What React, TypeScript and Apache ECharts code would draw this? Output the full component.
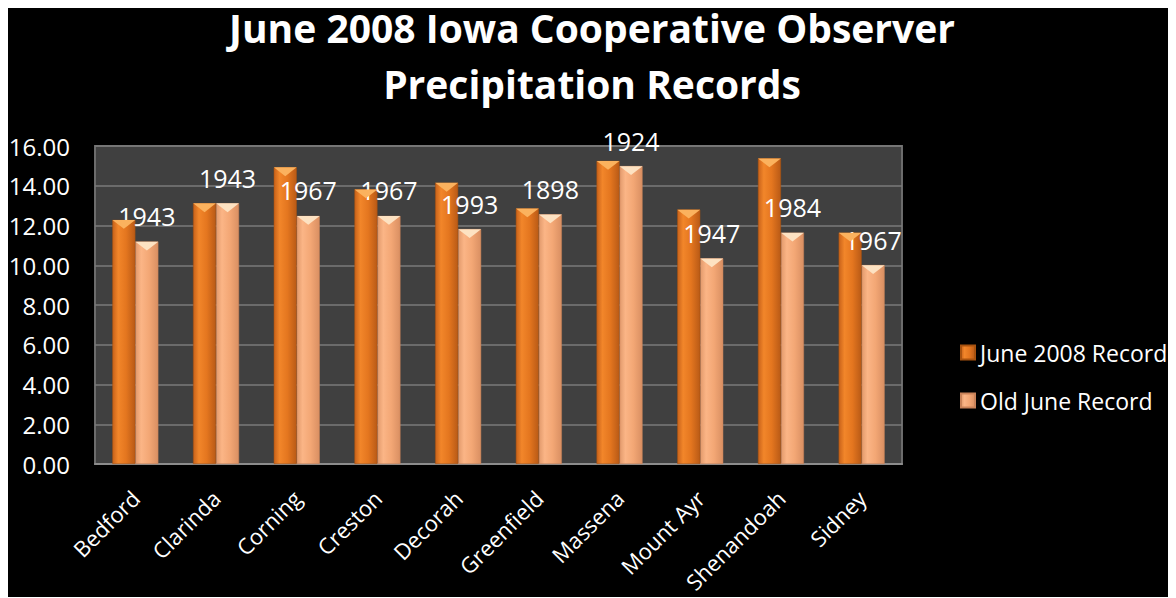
import React, { useEffect, useRef } from "react";
import * as echarts from "echarts";

const categories = ["Bedford", "Clarinda", "Corning", "Creston", "Decorah", "Greenfield", "Massena", "Mount Ayr", "Shenandoah", "Sidney"];
const june2008 = [12.28, 13.12, 14.93, 13.82, 14.15, 12.86, 15.25, 12.8, 15.38, 11.64];
const oldRecord = [11.19, 13.12, 12.48, 12.48, 11.82, 12.56, 14.99, 10.35, 11.64, 10.01];
const oldYears = ["1943", "1943", "1967", "1967", "1993", "1898", "1924", "1947", "1984", "1967"];
const yTicks = { min: 0, max: 16, interval: 2 };
const seriesNames = ["June 2008 Record", "Old June Record"];
const titleLines = ["June 2008 Iowa Cooperative Observer", "Precipitation Records"];

const FONT = "'Open Sans', 'DejaVu Sans', sans-serif";

function hGrad(stops: [number, string][]) {
  return new echarts.graphic.LinearGradient(0, 0, 1, 0, stops.map(([offset, color]) => ({ offset, color })));
}

export default function App() {
  const ref = useRef<HTMLDivElement>(null);
  useEffect(() => {
    if (!ref.current) return;
    const chart = echarts.init(ref.current, undefined, { renderer: "svg" });
    const juneColor = hGrad([
      [0, "#c8621a"],
      [0.25, "#f2862a"],
      [0.6, "#e4761f"],
      [1, "#b95a16"],
    ]);
    const oldColor = hGrad([
      [0, "#e29a6c"],
      [0.25, "#fbb586"],
      [0.6, "#f3a775"],
      [1, "#d98f62"],
    ]);
    const barW = 23;
    const titleStyle = {
      color: "#ffffff",
      fontFamily: FONT,
      fontWeight: "bold",
      fontSize: 39,
      lineHeight: 40,
    };
    chart.setOption({
      animation: false,
      backgroundColor: "#000000",
      graphic: [
        {
          type: "rect",
          left: 0,
          top: 0,
          z: -1,
          silent: true,
          shape: { width: 1168, height: 8 },
          style: { fill: "#ffffff" },
        },
      ],
      title: [
        { text: titleLines[0], left: "center", top: 7, padding: 0, textStyle: titleStyle },
        { text: titleLines[1], left: "center", top: 63, padding: 0, textStyle: titleStyle },
      ],
      legend: {
        data: seriesNames,
        orient: "vertical",
        left: 952,
        top: 341,
        padding: 0,
        itemWidth: 14,
        itemHeight: 14,
        itemGap: 25,
        icon: "rect",
        textStyle: { color: "#ffffff", fontFamily: FONT, fontSize: 23, lineHeight: 23 },
      },
      grid: {
        left: 87,
        right: 274,
        top: 146,
        bottom: 133,
        outerBoundsMode: "none",
        show: true,
        backgroundColor: "#404040",
        borderColor: "#6c6c6c",
        borderWidth: 2,
      },
      xAxis: {
        type: "category",
        data: categories,
        axisTick: { show: false },
        axisLine: { lineStyle: { color: "#8c8c8c", width: 2 } },
        axisLabel: {
          color: "#ffffff",
          fontFamily: FONT,
          fontSize: 22,
          rotate: 45,
          interval: 0,
          margin: 30,
        },
      },
      yAxis: {
        type: "value",
        min: yTicks.min,
        max: yTicks.max,
        interval: yTicks.interval,
        axisLine: { show: false },
        axisTick: { show: false },
        splitLine: { lineStyle: { color: "#7a7a7a", width: 1.5 } },
        axisLabel: {
          color: "#ffffff",
          fontFamily: FONT,
          fontSize: 24,
          margin: 25,
          formatter: (v: number) => v.toFixed(2),
        },
      },
      series: [
        {
          name: seriesNames[0],
          type: "bar",
          data: june2008,
          barWidth: barW,
          barGap: "0%",
          itemStyle: { color: juneColor, borderColor: "#a8520f", borderWidth: 0.5 },
        },
        {
          name: seriesNames[1],
          type: "bar",
          data: oldRecord,
          barWidth: barW,
          barGap: "0%",
          itemStyle: { color: oldColor, borderColor: "#c98258", borderWidth: 0.5 },
          label: {
            show: true,
            position: "top",
            distance: 13,
            color: "#ffffff",
            fontFamily: FONT,
            fontSize: 25,
            formatter: (p: any) => oldYears[p.dataIndex],
          },
        },
        {
          name: "june-top",
          type: "pictorialBar",
          data: june2008,
          barWidth: barW,
          barGap: "0%",
          symbol: "triangle",
          symbolRotate: 180,
          symbolSize: [barW, 9],
          symbolPosition: "end",
          z: 5,
          silent: true,
          itemStyle: { color: "#fbb25e" },
        },
        {
          name: "old-top",
          type: "pictorialBar",
          data: oldRecord,
          barWidth: barW,
          barGap: "0%",
          symbol: "triangle",
          symbolRotate: 180,
          symbolSize: [barW, 9],
          symbolPosition: "end",
          z: 5,
          silent: true,
          itemStyle: { color: "#fde2c2" },
        },
      ],
    });
    return () => chart.dispose();
  }, []);
  return <div ref={ref} style={{ position: "relative", top: -8, width: 1168, height: 597 }} />;
}
